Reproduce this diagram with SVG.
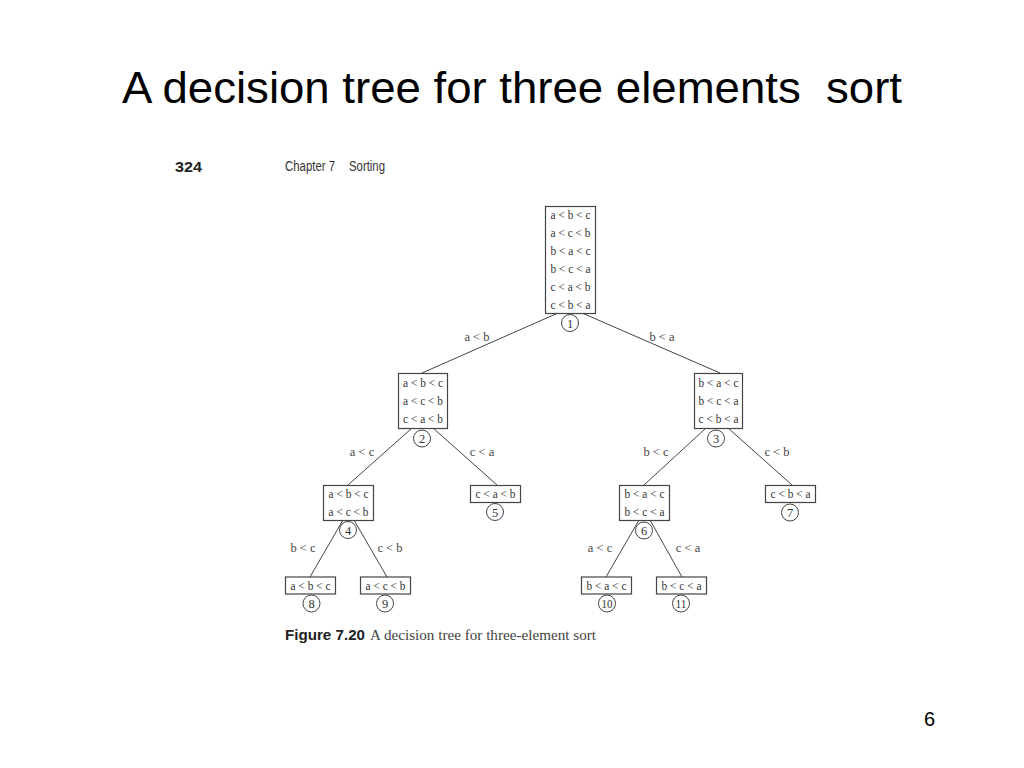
<svg xmlns="http://www.w3.org/2000/svg" width="1024" height="768" viewBox="0 0 1024 768">
<style>
.title{font-family:"Liberation Sans",Arial,sans-serif;font-size:45px;fill:#000;white-space:pre}
.pg{font-family:"Liberation Sans",Arial,sans-serif;font-size:20px;fill:#000}
.hdr{font-family:"Liberation Sans",Arial,sans-serif;font-size:14px;fill:#333}
.hdrb{font-family:"Liberation Sans",Arial,sans-serif;font-size:15px;font-weight:bold;fill:#222}
.t{font-family:"Liberation Serif","Times New Roman",serif;font-size:13px;fill:#333;text-anchor:middle}
.n{font-family:"Liberation Serif","Times New Roman",serif;font-size:12.5px;fill:#333;text-anchor:middle}
.lbl{font-family:"Liberation Serif","Times New Roman",serif;font-size:12.5px;fill:#444;text-anchor:middle}
.cap{font-family:"Liberation Serif","Times New Roman",serif;font-size:14px;fill:#444}
.capb{font-family:"Liberation Sans",Arial,sans-serif;font-size:14px;font-weight:bold;fill:#222}
.box{fill:#fff;stroke:#444;stroke-width:1.2}
.c{fill:#fff;stroke:#444;stroke-width:1}
.e{stroke:#444;stroke-width:1;fill:none}
</style>
<rect width="1024" height="768" fill="#fff"/>
<text class="title" x="122" y="103" xml:space="preserve" textLength="780" lengthAdjust="spacingAndGlyphs">A decision tree for three elements  sort</text>
<text class="pg" x="924" y="726">6</text>
<text class="hdrb" x="175" y="172" textLength="27" lengthAdjust="spacingAndGlyphs">324</text>
<text class="hdr" x="285" y="171" textLength="50" lengthAdjust="spacingAndGlyphs">Chapter 7</text>
<text class="hdr" x="349" y="171" textLength="36" lengthAdjust="spacingAndGlyphs">Sorting</text>

<g id="connectors">
<line class="e" x1="558" y1="313" x2="422" y2="373"/>
<line class="e" x1="582" y1="313" x2="720" y2="373"/>
<line class="e" x1="412" y1="428" x2="348" y2="485"/>
<line class="e" x1="433" y1="428" x2="497" y2="485"/>
<line class="e" x1="706" y1="428" x2="644" y2="485"/>
<line class="e" x1="728" y1="428" x2="792" y2="485"/>
<line class="e" x1="343" y1="520" x2="310" y2="577"/>
<line class="e" x1="354" y1="520" x2="387" y2="577"/>
<line class="e" x1="639" y1="520" x2="606" y2="577"/>
<line class="e" x1="650" y1="520" x2="682" y2="577"/>
<text class="lbl" x="477" y="341">a &lt; b</text>
<text class="lbl" x="662" y="341">b &lt; a</text>
<text class="lbl" x="362" y="456">a &lt; c</text>
<text class="lbl" x="482" y="456">c &lt; a</text>
<text class="lbl" x="656" y="456">b &lt; c</text>
<text class="lbl" x="777" y="456">c &lt; b</text>
<text class="lbl" x="303" y="552">b &lt; c</text>
<text class="lbl" x="390" y="552">c &lt; b</text>
<text class="lbl" x="600" y="552">a &lt; c</text>
<text class="lbl" x="688" y="552">c &lt; a</text>
</g>

<g id="node1">
<rect class="box" x="545.5" y="206.5" width="50" height="107"/>
<text class="t" x="570.5" y="219" textLength="40" lengthAdjust="spacingAndGlyphs">a &lt; b &lt; c</text>
<text class="t" x="570.5" y="237" textLength="40" lengthAdjust="spacingAndGlyphs">a &lt; c &lt; b</text>
<text class="t" x="570.5" y="255" textLength="40" lengthAdjust="spacingAndGlyphs">b &lt; a &lt; c</text>
<text class="t" x="570.5" y="273" textLength="40" lengthAdjust="spacingAndGlyphs">b &lt; c &lt; a</text>
<text class="t" x="570.5" y="291" textLength="40" lengthAdjust="spacingAndGlyphs">c &lt; a &lt; b</text>
<text class="t" x="570.5" y="309" textLength="40" lengthAdjust="spacingAndGlyphs">c &lt; b &lt; a</text>
<circle class="c" cx="570" cy="323" r="8.5"/>
<text class="n" x="570" y="327.5">1</text>
</g>

<g id="node2">
<rect class="box" x="398.5" y="373.5" width="49" height="55"/>
<text class="t" x="423" y="387" textLength="40" lengthAdjust="spacingAndGlyphs">a &lt; b &lt; c</text>
<text class="t" x="423" y="405" textLength="40" lengthAdjust="spacingAndGlyphs">a &lt; c &lt; b</text>
<text class="t" x="423" y="423" textLength="40" lengthAdjust="spacingAndGlyphs">c &lt; a &lt; b</text>
<circle class="c" cx="422" cy="438.5" r="8.5"/>
<text class="n" x="422" y="443">2</text>
</g>

<g id="node3">
<rect class="box" x="694.5" y="373.5" width="48" height="55"/>
<text class="t" x="718.5" y="387" textLength="40" lengthAdjust="spacingAndGlyphs">b &lt; a &lt; c</text>
<text class="t" x="718.5" y="405" textLength="40" lengthAdjust="spacingAndGlyphs">b &lt; c &lt; a</text>
<text class="t" x="718.5" y="423" textLength="40" lengthAdjust="spacingAndGlyphs">c &lt; b &lt; a</text>
<circle class="c" cx="716" cy="438.5" r="8.5"/>
<text class="n" x="716" y="443">3</text>
</g>

<g id="node4">
<rect class="box" x="323.5" y="485.5" width="50" height="35"/>
<text class="t" x="348.5" y="498" textLength="40" lengthAdjust="spacingAndGlyphs">a &lt; b &lt; c</text>
<text class="t" x="348.5" y="516" textLength="40" lengthAdjust="spacingAndGlyphs">a &lt; c &lt; b</text>
<circle class="c" cx="348" cy="530" r="8.5"/>
<text class="n" x="348" y="534.5">4</text>
</g>

<g id="node5">
<rect class="box" x="470.5" y="485.5" width="50" height="17"/>
<text class="t" x="495.5" y="498" textLength="40" lengthAdjust="spacingAndGlyphs">c &lt; a &lt; b</text>
<circle class="c" cx="495" cy="512" r="8.5"/>
<text class="n" x="495" y="516.5">5</text>
</g>

<g id="node6">
<rect class="box" x="619.5" y="485.5" width="50" height="35"/>
<text class="t" x="644.5" y="498" textLength="40" lengthAdjust="spacingAndGlyphs">b &lt; a &lt; c</text>
<text class="t" x="644.5" y="516" textLength="40" lengthAdjust="spacingAndGlyphs">b &lt; c &lt; a</text>
<circle class="c" cx="644" cy="530.5" r="8.5"/>
<text class="n" x="644" y="535">6</text>
</g>

<g id="node7">
<rect class="box" x="765.5" y="485.5" width="50" height="17"/>
<text class="t" x="790.5" y="498" textLength="40" lengthAdjust="spacingAndGlyphs">c &lt; b &lt; a</text>
<circle class="c" cx="790" cy="512.5" r="8.5"/>
<text class="n" x="790" y="517">7</text>
</g>

<g id="node8">
<rect class="box" x="285.5" y="577" width="50" height="17"/>
<text class="t" x="310.5" y="590" textLength="40" lengthAdjust="spacingAndGlyphs">a &lt; b &lt; c</text>
<circle class="c" cx="311.5" cy="603.5" r="8.5"/>
<text class="n" x="311.5" y="608">8</text>
</g>

<g id="node9">
<rect class="box" x="360.5" y="577" width="50" height="17"/>
<text class="t" x="385.5" y="590" textLength="40" lengthAdjust="spacingAndGlyphs">a &lt; c &lt; b</text>
<circle class="c" cx="385" cy="603.5" r="8.5"/>
<text class="n" x="385" y="608">9</text>
</g>

<g id="node10">
<rect class="box" x="581.5" y="577" width="50" height="17"/>
<text class="t" x="606.5" y="590" textLength="40" lengthAdjust="spacingAndGlyphs">b &lt; a &lt; c</text>
<circle class="c" cx="607" cy="603.5" r="8.5"/>
<text class="n" x="607" y="608" textLength="11" lengthAdjust="spacingAndGlyphs">10</text>
</g>

<g id="node11">
<rect class="box" x="656.5" y="577" width="50" height="17"/>
<text class="t" x="681.5" y="590" textLength="40" lengthAdjust="spacingAndGlyphs">b &lt; c &lt; a</text>
<circle class="c" cx="681" cy="603.5" r="8.5"/>
<text class="n" x="681" y="608" textLength="11" lengthAdjust="spacingAndGlyphs">11</text>
</g>

<text class="capb" x="285" y="640" textLength="80" lengthAdjust="spacingAndGlyphs">Figure 7.20</text>
<text class="cap" x="370" y="640" textLength="226" lengthAdjust="spacingAndGlyphs">A decision tree for three-element sort</text>
</svg>
